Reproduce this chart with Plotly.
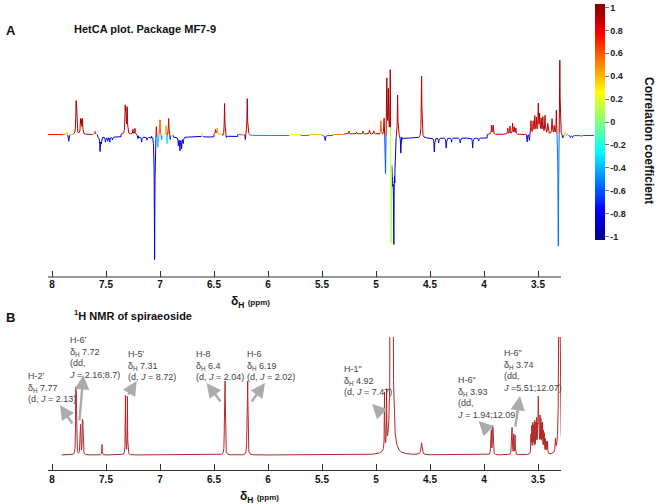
import numpy as np
import plotly.graph_objects as go
from plotly.colors import sample_colorscale

W, H = 658, 504
FONT = "Liberation Sans, Arial, sans-serif"

# ---------------- DATA ----------------
# Panel A (HetCA): peak list
hetca_ppm = [7.860, 7.845, 7.777, 7.772, 7.736, 7.728, 7.718, 7.600, 7.555, 7.545,
             7.505, 7.485, 7.465, 7.440, 7.322, 7.316, 7.304, 7.250, 7.232, 7.205,
             7.170, 7.120, 7.050, 7.034, 7.020, 7.000, 6.985, 6.945, 6.935, 6.920,
             6.905, 6.830, 6.815, 6.800, 6.785, 6.610, 6.485, 6.470, 6.402, 6.385,
             6.210, 6.192, 5.470, 5.250, 5.180, 5.120, 5.060, 5.020, 4.955, 4.925,
             4.912, 4.900, 4.886, 4.868, 4.860, 4.845, 4.835, 4.826, 4.800, 4.770,
             4.578, 4.460, 4.420, 4.350, 4.300, 4.220, 4.105, 4.050, 3.930, 3.915,
             3.780, 3.760, 3.735, 3.720, 3.705, 3.600, 3.580, 3.565, 3.545, 3.530,
             3.515, 3.497, 3.485, 3.470, 3.455, 3.435, 3.410, 3.370, 3.350, 3.330,
             3.312, 3.298, 3.270, 3.250, 3.230, 3.200, 3.180, 3.100]
hetca_int = [3, -7, 28, 22, 14, 12, 15, 3, -14, -6,
             -5, -4, -5, -3, 25, 20, 26, 5, 6, -4,
             -5, -3, -125, 13, -12, 16, -5, 10, -10, 17,
             -5, -8, -13, -11, -6, 4, 5, 6, 33, -2,
             -6, 36, -5, 3, 2, 3, 4, 3, 14, 18,
             -43, 58, 45, 81, -112, -40, -95, -35, 42, -18,
             62, -14, -5, -10, -4, -5, -10, -3, 9, 9,
             6, 8, 11, 7, 6, -8, -7, 13, 12, 17,
             15, 29, 18, 14, 16, 18, 10, 15, 8, 26,
             -115, 80, -3, 3, 2, -2, -2, -1]
hetca_corr = [0.3, -0.8, 0.96, 0.93, 0.92, 0.92, 0.92, 0.8, -0.85, -0.85,
              -0.85, -0.85, -0.85, -0.85, 0.93, 0.93, 0.93, 0.93, 0.93, -0.85,
              -0.85, -0.85, -0.82, 0.85, -0.35, 0.6, -0.5, 0.45, -0.3, 0.88,
              -0.7, -0.85, -0.85, -0.85, -0.85, 0.3, 0.9, 0.45, 0.92, -0.8,
              -0.8, 0.92, -0.8, 0.9, 0.9, 0.9, 0.9, 0.9, 0.6, 0.93,
              -0.6, 0.94, 0.96, 0.94, 0.1, -0.9, -0.92, -0.9, 0.93, -0.85,
              0.9, -0.85, -0.85, -0.85, -0.85, -0.85, -0.85, -0.85, 0.93, 0.93,
              0.9, 0.9, 0.9, 0.9, 0.9, -0.8, -0.8, 0.9, 0.85, 0.9,
              0.93, 0.93, 0.93, 0.9, 0.9, 0.93, 0.9, 0.93, 0.9, 0.93,
              -0.55, 0.95, -0.8, 0.3, 0.25, -0.8, -0.8, -0.8]
hetca_hw = [0.003] * len(hetca_ppm)
hetca_hw[hetca_ppm.index(4.845)] = 0.006
hetca_hw[hetca_ppm.index(7.845)] = 0.004

# Panel A baseline segments: start ppm, end ppm, level, correlation
base_start = [8.04, 7.90, 7.80, 7.62, 7.58, 7.36, 7.20, 7.08, 6.88, 6.50, 6.42, 6.28, 6.17, 5.80, 5.70, 5.62, 5.50, 5.40, 5.30, 4.97, 4.76, 3.97, 3.62, 3.32]
base_end   = [7.90, 7.80, 7.62, 7.58, 7.36, 7.20, 7.08, 6.88, 6.50, 6.42, 6.28, 6.17, 5.80, 5.70, 5.62, 5.50, 5.40, 5.30, 4.97, 4.76, 3.97, 3.62, 3.32, 2.97]
base_level = [0.5, 0.5, 0.5, 0.5, -2, 0.5, -2, 0, -2, 0.5, -1.5, 0.5, -0.5, 0.5, -0.5, 0.5, -0.5, 0.5, 1, 0, -3, 0.5, 1, -0.5]
base_corr  = [0.75, 0.5, 0.9, 0.4, -0.85, 0.9, -0.85, 0.3, -0.85, 0.4, -0.85, 0.6, -0.5, 0.25, -0.5, 0.35, -0.6, 0.5, 0.85, 0.85, -0.85, 0.85, 0.9, -0.6]

# Panel B (1H NMR of spiraeoside): peak list
nmr_ppm = [7.780, 7.775, 7.740, 7.735, 7.719, 7.714, 7.537, 7.320, 7.302, 6.402,
           6.397, 6.193, 6.188, 4.921, 4.902, 4.855, 4.578, 3.937, 3.932, 3.921,
           3.916, 3.745, 3.740, 3.725, 3.712, 3.565, 3.558, 3.548, 3.540, 3.530,
           3.520, 3.512, 3.503, 3.497, 3.490, 3.481, 3.473, 3.465, 3.458, 3.449,
           3.441, 3.430, 3.420, 3.412, 3.338, 3.302]
nmr_int = [60, 58, 26, 26, 31, 31, 10.5, 59, 58, 65,
           65, 65, 65, 57, 55, 1500, 12, 21, 21, 25,
           25, 22, 24, 20, 19, 19, 26, 29, 26, 31,
           28, 32, 38, 50, 37, 34, 31, 26, 28, 21,
           19, 14, 11, 12, 12, 1000]
nmr_hw = [0.002] * len(nmr_ppm)
nmr_hw[nmr_ppm.index(4.855)] = 0.004
nmr_hw[nmr_ppm.index(4.578)] = 0.006
nmr_hw[nmr_ppm.index(3.302)] = 0.0025
nmr_hw[nmr_ppm.index(3.338)] = 0.003

tick_vals = [8, 7.5, 7, 6.5, 6, 5.5, 5, 4.5, 4, 3.5]
tick_text = ["8", "7.5", "7", "6.5", "6", "5.5", "5", "4.5", "4", "3.5"]
cbar_vals = [1, 0.8, 0.6, 0.4, 0.2, 0, -0.2, -0.4, -0.6, -0.8, -1]
cbar_text = ["1", "0.8", "0.6", "0.4", "0.2", "0", "-0.2", "-0.4", "-0.6", "-0.8", "-1"]

# peak labels (text, arrow head ppm/intensity, arrow tail ppm/intensity)
lab_text = [
    "H-2′<br>δ<sub>H</sub> 7.77<br>(d, <i>J</i> = 2.13)",
    "H-6′<br>δ<sub>H</sub> 7.72<br>(dd,<br><i>J</i> = 2.16;8.7)",
    "H-5′<br>δ<sub>H</sub> 7.31<br>(d, <i>J</i> = 8.72)",
    "H-8<br>δ<sub>H</sub> 6.4<br>(d, <i>J</i> = 2.04)",
    "H-6<br>δ<sub>H</sub> 6.19<br>(d, <i>J</i> = 2.02)",
    "H-1″<br>δ<sub>H</sub> 4.92<br>(d, <i>J</i> = 7.47)",
    "H-6″<br>δ<sub>H</sub> 3.93<br>(dd,<br><i>J</i> = 1.94;12.09)",
    "H-6″<br>δ<sub>H</sub> 3.74<br>(dd,<br><i>J</i> =5.51;12.07)",
]
arrow_head_ppm = [7.926, 7.710, 7.216, 6.568, 6.028, 5.037, 4.050, 3.667]
arrow_head_int = [50, 80, 74, 72, 72, 51, 34, 59]
arrow_tail_ppm = [7.803, 7.747, 7.303, 6.429, 6.160, 4.954, 3.967, 3.713]
arrow_tail_int = [30, 33, 59, 52, 52, 42, 25, 27]
# label placement (left edge px, vertical centre px)
lab_left = [27, 68, 127, 195, 246, 343, 456, 502]
lab_mid = [387, 357, 365, 365, 365, 380, 397, 370]

# ---------------- helpers ----------------
jet = [[0.0, "rgb(0,0,143)"], [0.125, "rgb(0,0,255)"], [0.375, "rgb(0,255,255)"],
       [0.625, "rgb(255,255,0)"], [0.875, "rgb(255,0,0)"], [1.0, "rgb(128,0,0)"]]
CMIN, CMAX = -1.03, 1.03


def px(x):
    return x / W


def py(y):
    return 1 - y / H


# ---------------- build spectrum A ----------------
xa = np.round(np.arange(8.036, 2.975, -0.001), 4)
contrib = np.array([h / (1 + ((xa - p) / w) ** 2) for p, h, w in zip(hetca_ppm, hetca_int, hetca_hw)])
base = np.zeros_like(xa)
bcorr = np.zeros_like(xa)
for s, e, lv, c in zip(base_start, base_end, base_level, base_corr):
    m = (xa <= s) & (xa > e)
    base[m] = lv
    bcorr[m] = c
ya = contrib.sum(axis=0) + base
dom = np.abs(contrib).argmax(axis=0)
domval = np.abs(contrib).max(axis=0)
ca = np.where(domval > 1.0, np.array(hetca_corr)[dom], bcorr)

nb = 81
bins_x = {b: [] for b in range(nb)}
bins_y = {b: [] for b in range(nb)}
cur_b, start = None, 0
for i in range(len(xa) - 1):
    j = i if abs(ya[i]) >= abs(ya[i + 1]) else i + 1
    b = int(round((ca[j] + 1) / 2 * (nb - 1)))
    if b != cur_b:
        if cur_b is not None:
            bins_x[cur_b] += list(xa[start:i + 1]) + [None]
            bins_y[cur_b] += list(ya[start:i + 1]) + [None]
        cur_b, start = b, i
bins_x[cur_b] += list(xa[start:]) + [None]
bins_y[cur_b] += list(ya[start:]) + [None]

fig = go.Figure()
for b in range(nb):
    if not bins_x[b]:
        continue
    v = -1 + 2 * b / (nb - 1)
    col = sample_colorscale(jet, [(v - CMIN) / (CMAX - CMIN)])[0]
    fig.add_trace(go.Scatter(x=bins_x[b], y=bins_y[b], mode="lines",
                             line=dict(color=col, width=1), hoverinfo="skip",
                             showlegend=False, xaxis="x", yaxis="y"))

# colorbar carrier
fig.add_trace(go.Scatter(x=[5.0], y=[500], mode="markers", showlegend=False, hoverinfo="skip",
                         xaxis="x", yaxis="y",
                         marker=dict(size=1, color=[0], cmin=CMIN, cmax=CMAX, colorscale=jet,
                                     showscale=True,
                                     colorbar=dict(thickness=10, thicknessmode="pixels",
                                                   len=236, lenmode="pixels",
                                                   x=px(595), xanchor="left", xpad=0,
                                                   y=py(4), yanchor="top", ypad=0,
                                                   outlinewidth=0, tickvals=cbar_vals,
                                                   ticktext=cbar_text, ticks="outside",
                                                   ticklen=4, tickcolor="#777",
                                                   tickfont=dict(family=FONT, size=9, color="#222", weight="bold")))))

# ---------------- build spectrum B ----------------
xb = np.round(np.arange(7.91, 3.28, -0.0005), 5)
yb = np.zeros_like(xb)
for p, h, w in zip(nmr_ppm, nmr_int, nmr_hw):
    yb += h / (1 + ((xb - p) / w) ** 2)
fig.add_trace(go.Scatter(x=xb, y=yb, mode="lines", line=dict(color="rgb(178,40,40)", width=1),
                         hoverinfo="skip", showlegend=False, xaxis="x2", yaxis="y2"))

# ---------------- layout ----------------
tickfont = dict(family=FONT, size=10, color="#111", weight="bold")
fig.update_layout(
    width=W, height=H, margin=dict(l=0, r=0, t=0, b=0),
    paper_bgcolor="white", plot_bgcolor="white", showlegend=False,
    xaxis=dict(domain=[px(48), px(594)], range=[8 + 4 / 108, 8 - 542 / 108], anchor="y",
               showgrid=False, zeroline=False, showline=False, ticks="inside", ticklen=6,
               tickcolor="#333", tickwidth=1, tickvals=tick_vals, ticktext=tick_text,
               tickfont=tickfont),
    yaxis=dict(domain=[py(277), py(40)], range=[-142, 95], visible=False),
    xaxis2=dict(domain=[px(48), px(561)], range=[8 + 4 / 108, 8 - 509 / 108], anchor="y2",
                showgrid=False, zeroline=False, showline=True, linecolor="#333", linewidth=1,
                ticks="inside", ticklen=6, tickcolor="#333", tickwidth=1,
                tickvals=tick_vals, ticktext=tick_text, tickfont=tickfont),
    yaxis2=dict(domain=[py(470), py(337)], range=[-15, 118], visible=False),
)

# top axis line (only over the labelled range)
fig.add_shape(type="line", xref="x", yref="paper", x0=8 + 4 / 108, x1=8 - 509 / 108,
              y0=py(277), y1=py(277), line=dict(color="#333", width=1))

ann = []
ann.append(dict(x=px(4), y=py(30), xref="paper", yref="paper", xanchor="left", yanchor="middle",
                text="<b>A</b>", showarrow=False, font=dict(family=FONT, size=13, color="#111")))
ann.append(dict(x=px(72), y=py(29), xref="paper", yref="paper", xanchor="left", yanchor="middle",
                text="<b>HetCA plot. Package MF7-9</b>", showarrow=False,
                font=dict(family=FONT, size=11, color="#111")))
ann.append(dict(x=px(4), y=py(317), xref="paper", yref="paper", xanchor="left", yanchor="middle",
                text="<b>B</b>", showarrow=False, font=dict(family=FONT, size=13, color="#111")))
ann.append(dict(x=px(72), y=py(315), xref="paper", yref="paper", xanchor="left", yanchor="middle",
                text="<b><sup>1</sup>H NMR of spiraeoside</b>", showarrow=False,
                font=dict(family=FONT, size=11, color="#111")))
xlab = "<b>δ<sub>H</sub> <span style='font-size:8px'>(ppm)</span></b>"
ann.append(dict(x=px(250), y=py(302), xref="paper", yref="paper", xanchor="center", yanchor="middle",
                text=xlab, showarrow=False, font=dict(family=FONT, size=12, color="#111")))
ann.append(dict(x=px(259), y=py(497), xref="paper", yref="paper", xanchor="center", yanchor="middle",
                text=xlab, showarrow=False, font=dict(family=FONT, size=12, color="#111")))
ann.append(dict(x=px(649), y=py(140), xref="paper", yref="paper", xanchor="center", yanchor="middle",
                text="<b>Correlation coefficient</b>", textangle=90, showarrow=False,
                font=dict(family=FONT, size=12, color="#111")))

for t, l, m in zip(lab_text, lab_left, lab_mid):
    ann.append(dict(x=px(l), y=py(m), xref="paper", yref="paper", xanchor="left", yanchor="middle",
                    align="left", text=t, showarrow=False, borderpad=0,
                    font=dict(family=FONT, size=9, color="#444")))
for hx, hy, tx, ty in zip(arrow_head_ppm, arrow_head_int, arrow_tail_ppm, arrow_tail_int):
    ann.append(dict(x=hx, y=hy, xref="x2", yref="y2", ax=tx, ay=ty, axref="x2", ayref="y2",
                    text="", showarrow=True, arrowhead=2, arrowsize=1.2, arrowwidth=2.4,
                    arrowcolor="#ababab", standoff=0, startstandoff=0))
fig.update_layout(annotations=ann)

fig.write_html("out.html")
